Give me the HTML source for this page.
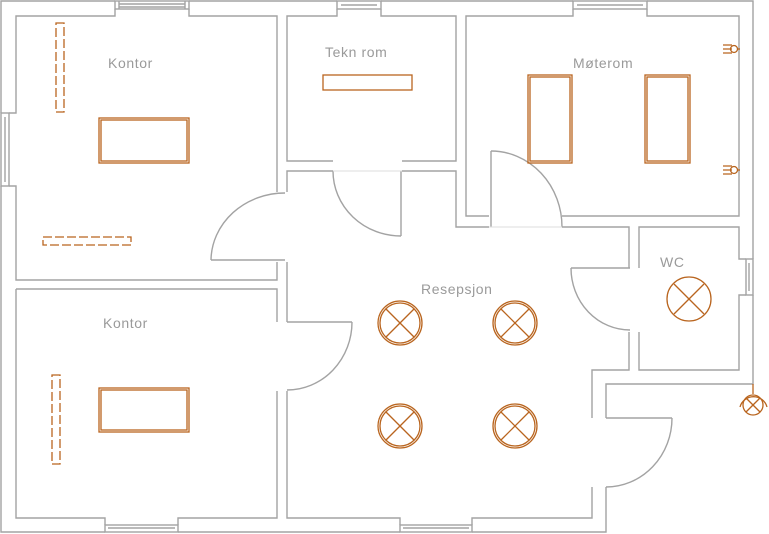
<!DOCTYPE html>
<html><head><meta charset="utf-8"><style>
html,body{margin:0;padding:0;background:#fff;}
svg{display:block}
text{font-family:"Liberation Sans","DejaVu Sans",sans-serif;font-size:14px;fill:#9a9a9a;letter-spacing:0.6px;}
</style></head><body>
<svg width="769" height="534" viewBox="0 0 769 534" xmlns="http://www.w3.org/2000/svg">
<g fill="none" stroke="#a3a3a3" stroke-width="1.4">
<polyline points="115,1 1,1 1,113"/>
<polyline points="1,186 1,532 105,532"/>
<polyline points="178,532 400,532"/>
<polyline points="472,532 606,532 606,487"/>
<polyline points="606,418 606,384 753,384 753,295"/>
<polyline points="753,259 753,1 647,1"/>
<polyline points="573,1 381,1"/>
<polyline points="337,1 189,1"/>
<rect x="115" y="1" width="74" height="8"/><line x1="119" y1="4" x2="185" y2="4"/><line x1="119" y1="7" x2="185" y2="7"/>
<line x1="119" y1="1" x2="119" y2="9"/><line x1="185" y1="1" x2="185" y2="9"/>
<rect x="337" y="1" width="44" height="8"/><line x1="341" y1="5" x2="377" y2="5"/>
<rect x="573" y="1" width="74" height="8"/><line x1="577" y1="5" x2="643" y2="5"/>
<rect x="1" y="113" width="8" height="73"/><line x1="5" y1="117" x2="5" y2="182"/>
<rect x="746" y="259" width="7" height="36"/><line x1="749" y1="263" x2="749" y2="291"/>
<rect x="105" y="525" width="73" height="7"/><line x1="108" y1="528" x2="175" y2="528"/>
<rect x="400" y="525" width="72" height="7"/><line x1="403" y1="528" x2="469" y2="528"/>
<polyline points="115,9 115,16 16,16 16,113 9,113"/>
<polyline points="9,186 16,186 16,280 277,280 277,262"/>
<polyline points="189,9 189,16 277,16 277,192"/>
<polyline points="16,289 277,289 277,322"/>
<polyline points="277,391 277,518 178,518 178,525"/>
<polyline points="105,525 105,518 16,518 16,289"/>
<polyline points="287,262 287,322"/>
<polyline points="287,391 287,518 400,518 400,525"/>
<polyline points="472,525 472,518 592,518 592,487"/>
<polyline points="337,9 337,16 287,16 287,161 333,161"/>
<polyline points="287,192 287,171 333,171"/>
<polyline points="381,9 381,16 456,16 456,161 402,161"/>
<polyline points="402,171 456,171 456,227 489,227"/>
<polyline points="573,9 573,16 466,16 466,216 489,216"/>
<polyline points="647,9 647,16 739,16 739,216 562,216"/>
<polyline points="562,227 629,227 629,268"/>
<polyline points="639,268 639,227 739,227 739,259 746,259"/>
<polyline points="746,295 739,295 739,370 639,370 639,332"/>
<polyline points="629,332 629,370 592,370 592,418"/>
<line x1="211" y1="260" x2="285" y2="260"/><path d="M211,260 A74,68 0 0 1 285,193"/>
<line x1="401" y1="171" x2="401" y2="236"/><path d="M333,171 A68,65 0 0 0 401,236"/>
<line x1="491" y1="151" x2="491" y2="227"/><path d="M491,151 A71,76 0 0 1 562,227"/>
<line x1="571" y1="268" x2="630" y2="268"/><path d="M571,268 A59,62 0 0 0 630,330"/>
<line x1="287" y1="322" x2="352" y2="322"/><path d="M352,322 A65,68 0 0 1 287,390"/>
<line x1="606" y1="418" x2="672" y2="418"/><path d="M672,418 A66,69 0 0 1 606,487"/>
</g>
<g fill="none" stroke="#ddd" stroke-width="1">
<line x1="333" y1="171" x2="402" y2="171"/>
<line x1="489" y1="227" x2="562" y2="227"/>
</g>
<g fill="none" stroke="#b9651f" stroke-width="1.3">
<rect x="56" y="23" width="8" height="89" stroke-dasharray="9,3"/>
<rect x="43" y="237" width="88" height="8" stroke-dasharray="9,3"/>
<rect x="52" y="375" width="8" height="89" stroke-dasharray="9,3"/>
<rect x="99" y="118" width="90" height="45"/><rect x="101" y="120" width="86" height="41"/>
<rect x="99" y="388" width="90" height="44"/><rect x="101" y="390" width="86" height="40"/>
<rect x="323" y="75" width="89" height="15"/>
<rect x="528" y="75" width="44" height="88"/><rect x="530" y="77" width="40" height="84"/>
<rect x="645" y="75" width="45" height="88"/><rect x="647" y="77" width="41" height="84"/>
<g id="l"><circle cx="400" cy="323" r="22"/><circle cx="400" cy="323" r="20"/><line x1="386" y1="309" x2="414" y2="337"/><line x1="414" y1="309" x2="386" y2="337"/></g>
<use href="#l" x="115"/><use href="#l" y="103"/><use href="#l" x="115" y="103"/>
<circle cx="689" cy="299" r="22"/><line x1="674" y1="284" x2="704" y2="314"/><line x1="704" y1="284" x2="674" y2="314"/>
<line x1="753" y1="384" x2="753" y2="394"/>
<circle cx="753" cy="405" r="10"/><line x1="746" y1="398" x2="760" y2="412"/><line x1="760" y1="398" x2="746" y2="412"/>
<path d="M740,407 A14,14 0 0 1 767,407"/>
<g id="s"><path d="M723,45 h9 M723,49 h9 M723,53 h9"/><circle cx="734" cy="49" r="3.5"/><line x1="737" y1="49" x2="740" y2="49"/></g>
<use href="#s" y="121"/>
</g>
<text x="108" y="68">Kontor</text>
<text x="325" y="57">Tekn rom</text>
<text x="573" y="68">Møterom</text>
<text x="421" y="294">Resepsjon</text>
<text x="660" y="267">WC</text>
<text x="103" y="328">Kontor</text>
</svg>
</body></html>
